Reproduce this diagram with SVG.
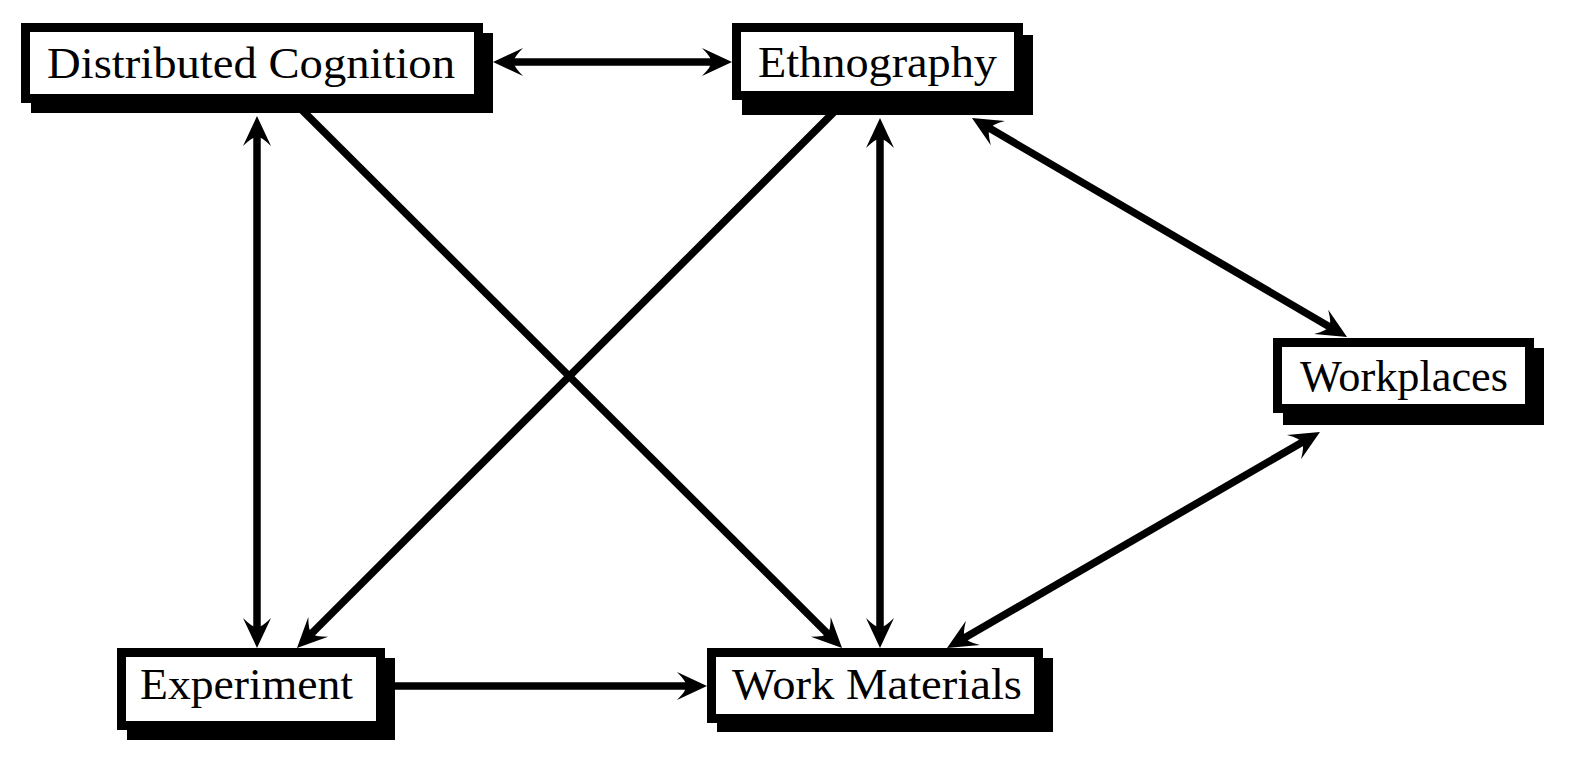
<svg xmlns="http://www.w3.org/2000/svg" width="1570" height="768" viewBox="0 0 1570 768">
<style>
.shadow{fill:#000}
.frame{fill:#fff;stroke:#000;stroke-width:9}
.label{font-family:"Liberation Serif","DejaVu Serif",serif;font-size:44px;fill:#000}
.conn{stroke:#000;stroke-width:7.5;fill:none}
.one{marker-end:url(#ah)}
.two{marker-start:url(#ah);marker-end:url(#ah)}
</style>
<defs>
<marker id="ah" markerUnits="userSpaceOnUse" markerWidth="44" markerHeight="34" refX="12" refY="0" orient="auto-start-reverse" overflow="visible" viewBox="-5 -17 44 34">
<path d="M30,0 L0,-14 Q10,-4 9,0 Q10,4 0,14 Z" fill="#000"/>
</marker>
</defs>
<rect width="1570" height="768" fill="#fff"/>
<g id="connectors">
<line class="conn two" x1="511" y1="62" x2="714" y2="62"/>
<line class="conn two" x1="257" y1="134" x2="257" y2="630"/>
<line class="conn one" x1="297" y1="105" x2="829.3" y2="635.3"/>
<line class="conn one" x1="841" y1="105" x2="309.7" y2="635.3"/>
<line class="conn two" x1="880" y1="136" x2="880" y2="630"/>
<line class="conn two" x1="987.5" y1="127.1" x2="1331.5" y2="327.9"/>
<line class="conn two" x1="1304.4" y1="441" x2="962.6" y2="639"/>
<line class="conn one" x1="385" y1="686" x2="689" y2="686"/>
</g>
<g id="distributed-cognition">
<rect class="shadow" x="31" y="33" width="462" height="80"/>
<rect class="frame" x="25.5" y="27.5" width="453" height="71"/>
<text class="label" x="47" y="78" textLength="408" lengthAdjust="spacingAndGlyphs">Distributed Cognition</text>
</g>
<g id="ethnography">
<rect class="shadow" x="742" y="35" width="291" height="80"/>
<rect class="frame" x="736.5" y="27.5" width="282" height="68"/>
<text class="label" x="758" y="77" textLength="239" lengthAdjust="spacingAndGlyphs">Ethnography</text>
</g>
<g id="workplaces">
<rect class="shadow" x="1283" y="348" width="261" height="77"/>
<rect class="frame" x="1277.5" y="342.5" width="252" height="66"/>
<text class="label" x="1300" y="391" textLength="208" lengthAdjust="spacingAndGlyphs">Workplaces</text>
</g>
<g id="experiment">
<rect class="shadow" x="127" y="658" width="268" height="82"/>
<rect class="frame" x="121.5" y="652.5" width="259" height="73"/>
<text class="label" x="140" y="699" textLength="213" lengthAdjust="spacingAndGlyphs">Experiment</text>
</g>
<g id="work-materials">
<rect class="shadow" x="717" y="658" width="336" height="74"/>
<rect class="frame" x="711.5" y="652.5" width="327" height="66"/>
<text class="label" x="732" y="699" textLength="290" lengthAdjust="spacingAndGlyphs">Work Materials</text>
</g>
</svg>
